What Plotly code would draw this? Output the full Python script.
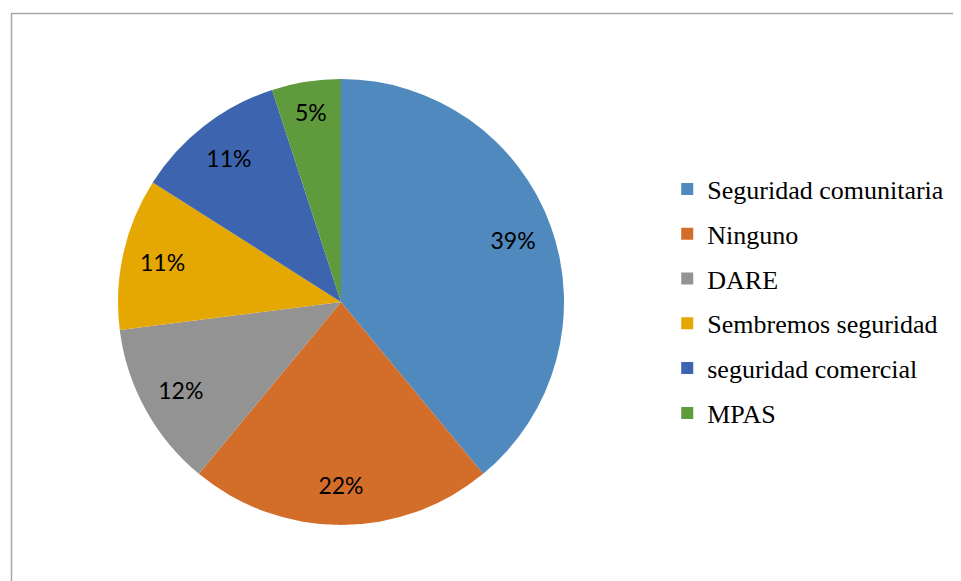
import plotly.graph_objects as go

categories = ["Seguridad comunitaria", "Ninguno", "DARE", "Sembremos seguridad",
              "seguridad comercial", "MPAS"]
percentages = [39, 22, 12, 11, 11, 5]
colors = ["#4F89BD", "#D36D2A", "#939393", "#E5A701", "#3D64AE", "#5F9A3D"]

# page has an 8px body margin; figure coordinates are screen - 8
W, H = 961, 581
OFF = 8
cx, cy, R = 341 - OFF, 302 - OFF, 223
dom = dict(x=[(cx - R) / W, (cx + R) / W], y=[1 - (cy + R) / H, 1 - (cy - R) / H])

fig = go.Figure()
# coloured slices
fig.add_trace(go.Pie(
    labels=categories,
    values=percentages,
    sort=False,
    direction="clockwise",
    rotation=0,
    marker=dict(colors=colors, line=dict(color="white", width=0)),
    textinfo="none",
    domain=dom,
    showlegend=False,
    hoverinfo="label+percent",
))
# data labels placed in an outer ring, like the reference
fig.add_trace(go.Pie(
    labels=categories,
    values=percentages,
    sort=False,
    direction="clockwise",
    rotation=0,
    hole=0.64,
    marker=dict(colors=["rgba(0,0,0,0)"] * len(categories), line=dict(width=0)),
    texttemplate="%{value}%",
    textposition="inside",
    insidetextorientation="horizontal",
    textfont=dict(family="Lato", size=23, color="black"),
    domain=dom,
    showlegend=False,
    hoverinfo="skip",
))

# legend entries (one per category, so they can be spaced like the reference)
for name, col in zip(categories, colors):
    fig.add_trace(go.Scatter(
        x=[None], y=[None], mode="markers", name=name,
        legendgroup=name,
        marker=dict(symbol="square", size=12, color=col),
    ))

fig.update_layout(
    width=W, height=H,
    margin=dict(l=0, r=0, t=0, b=0),
    paper_bgcolor="white", plot_bgcolor="white",
    xaxis=dict(visible=False), yaxis=dict(visible=False),
    showlegend=True,
    legend=dict(
        x=0.686, y=0.4957, xanchor="left", yanchor="middle",
        font=dict(family="Liberation Serif, Times New Roman, serif", size=26, color="black"),
        tracegroupgap=8, itemwidth=30,
        bgcolor="rgba(0,0,0,0)",
    ),
    shapes=[dict(type="rect", xref="paper", yref="paper",
                 x0=3.5 / W, x1=1.2, y0=-0.2, y1=1 - 5.5 / H,
                 line=dict(color="#A6A6A6", width=1.5), layer="below")],
)

fig.write_html("out.html")
